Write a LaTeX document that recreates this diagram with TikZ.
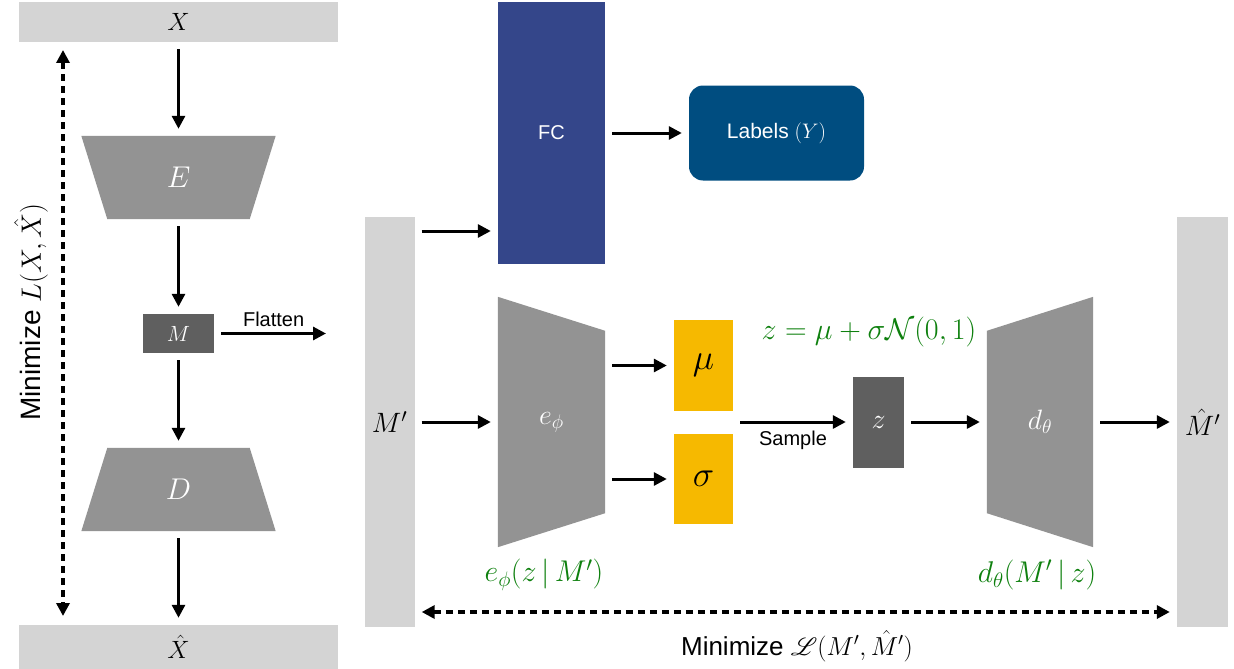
\RequirePackage{fix-cm}
\documentclass[tikz,border=0pt]{standalone}
\usepackage{amsmath,amssymb,mathrsfs}
\usepackage{fontspec}
\setsansfont{Liberation Sans}
\usetikzlibrary{arrows.meta,calc,backgrounds,positioning}

\definecolor{barGray}{HTML}{D4D4D4}
\definecolor{trapGray}{HTML}{939393}
\definecolor{boxGray}{HTML}{5F5F5F}
\definecolor{fcBlue}{HTML}{34468A}
\definecolor{labBlue}{HTML}{004D80}
\definecolor{gaussYellow}{HTML}{F6B900}
\definecolor{eqGreen}{HTML}{0E800E}

\newcommand{\fsz}[1]{\fontsize{#1}{#1}\selectfont}

\tikzset{
    arr/.style={-{Triangle[length=13pt,width=13pt]}, line width=3pt,
        shorten >=7pt, shorten <=7pt},
    lossarr/.style={{Triangle[length=13pt,width=13pt]}-{Triangle[length=13pt,width=13pt]},
        line width=3.5pt, dash pattern=on 7pt off 5pt},
    bar/.style={fill=barGray, inner sep=0pt},
    layer/.style={inner sep=0pt, text=white},
    block/.style={fill=#1, inner sep=0pt},
    eqlabel/.style={text=eqGreen, font=\fsz{30}},
}

\begin{document}
\begin{tikzpicture}[x=1pt,y=-1pt]
\useasboundingbox (0,0) rectangle (1234,669);

% autoencoder
\node[bar, minimum width=319, minimum height=40, font=\fsz{25}] (X) at (178.5,22) {$X$};
\node[layer, minimum width=194, minimum height=83, font=\fsz{30}] (E) at (178.5,177.5) {$E$};
\node[block=boxGray, minimum width=71, minimum height=39, text=white, font=\fsz{22}] (M) at (178.5,333.5) {$M$};
\node[layer, minimum width=194, minimum height=83, font=\fsz{30}] (D) at (178.5,489.5) {$D$};
\node[bar, minimum width=319, minimum height=44, font=\fsz{25}] (Xh) at (178.5,647) {$\hat{X}$};
\coordinate (flatEnd) at (333,333.5);

% classifier
\node[block=fcBlue, minimum width=107, minimum height=262, text=white, font=\sffamily\fsz{20}] (fc) at (551.5,133) {FC};
\node[block=labBlue, rounded corners=14pt, minimum width=175, minimum height=95, text=white, font=\sffamily\fsz{21}] (lab) at (776.5,133) {Labels $(Y)$};

% vae
\node[bar, minimum width=50, minimum height=410, font=\fsz{28}] (Mp) at (389.5,422) {$M'$};
\node[layer, minimum width=107, minimum height=250, font=\fsz{28}] (enc) at (551.5,422) {$e_\phi$};
\node[block=gaussYellow, minimum width=59, minimum height=91, font=\fsz{36}] (mu) at (703.5,365.5) {$\mu$};
\node[block=gaussYellow, minimum width=59, minimum height=90, font=\fsz{36}] (sig) at (703.5,479) {$\sigma$};
\node[block=boxGray, minimum width=51, minimum height=91, text=white, font=\fsz{28}] (z) at (878.5,422) {$z$};
\node[layer, minimum width=106, minimum height=250, font=\fsz{28}] (dec) at (1040,422) {$d_\theta$};
\node[bar, minimum width=51, minimum height=410, font=\fsz{28}] (Mh) at (1202.5,422) {$\hat{M}'$};

\begin{scope}[on background layer]
    \fill[trapGray] (E.north west) -- (E.north east) -- ($(E.south east)+(-26,0)$) -- ($(E.south west)+(26,0)$) -- cycle;
    \fill[trapGray] ($(D.north west)+(26,0)$) -- ($(D.north east)+(-26,0)$) -- (D.south east) -- (D.south west) -- cycle;
    \fill[trapGray] (enc.north west) -- ($(enc.north east)+(0,34)$) -- ($(enc.south east)+(0,-34)$) -- (enc.south west) -- cycle;
    \fill[trapGray] ($(dec.north west)+(0,34)$) -- (dec.north east) -- (dec.south east) -- ($(dec.south west)+(0,-34)$) -- cycle;
\end{scope}

% texts
\node[rotate=90, font=\sffamily\fsz{28}] (lossAE) at (31,312) {Minimize $L(X,\hat{X})$};
\node[font=\sffamily\fsz{26}] (lossVAE) at (797,646) {Minimize $\mathscr{L}(M',\hat{M}')$};
\node[eqlabel] (reparam) at (869,332) {$z=\mu+\sigma\mathcal{N}(0,1)$};
\node[eqlabel] (encLab) at (544,575) {$e_\phi(z\,|\,M')$};
\node[eqlabel] (decLab) at (1037,575) {$d_\theta(M'\,|\,z)$};

% arrows
\draw[arr] (X) -- (E);
\draw[arr] (E) -- (M);
\draw[arr] (M) -- (D);
\draw[arr] (D) -- (Xh);
\draw[arr] (M) -- node[above=2pt, font=\sffamily\fsz{20}] (flatLab) {Flatten} (flatEnd);
\draw[arr] (Mp.east |- 0,231) -- (fc.west |- 0,231);
\draw[arr] (fc) -- (lab);
\draw[arr] (Mp) -- (enc);
\draw[arr] (enc.east |- mu) -- (mu);
\draw[arr] (enc.east |- sig) -- (sig);
\draw[arr] (mu.east |- z) -- node[below=4pt, font=\sffamily\fsz{20}] (sampLab) {Sample} (z);
\draw[arr] (z) -- (dec);
\draw[arr] (dec) -- (Mh);
\draw[lossarr] (63,50) -- (63,616);
\draw[lossarr] ($(Mp.east |- 0,612)+(7,0)$) -- ($(Mh.west |- 0,612)+(-7,0)$);
\end{tikzpicture}
\end{document}
